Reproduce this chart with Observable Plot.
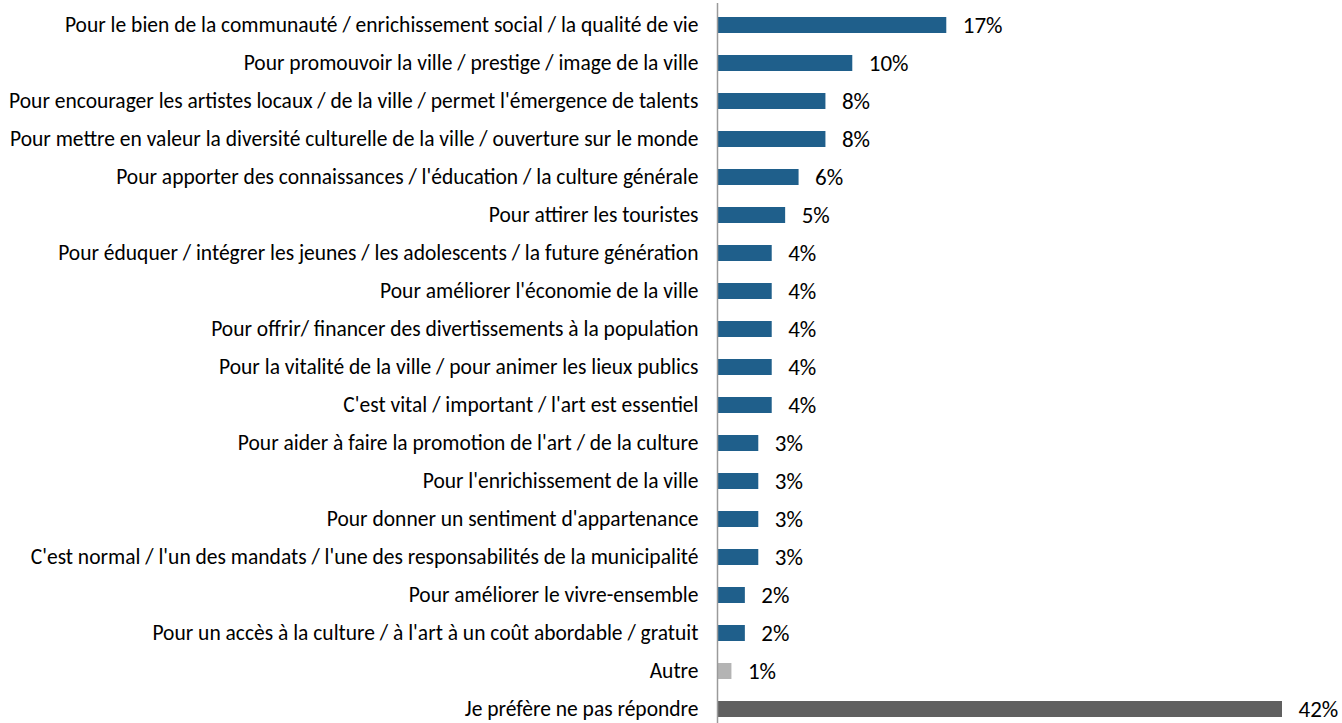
<!DOCTYPE html>
<html>
<head>
<meta charset="utf-8">
<script src="https://cdn.jsdelivr.net/npm/d3@7"></script>
<script src="https://cdn.jsdelivr.net/npm/@observablehq/plot@0.6"></script>
<style>
  html, body { margin: 0; padding: 0; background: #fff; }
  #chart svg { display: block; }
</style>
</head>
<body>
<div id="chart"></div>
<script>
const categories = [
  "Pour le bien de la communauté / enrichissement social / la qualité de vie",
  "Pour promouvoir la ville / prestige / image de la ville",
  "Pour encourager les artistes locaux / de la ville / permet l'émergence de talents",
  "Pour mettre en valeur la diversité culturelle de la ville / ouverture sur le monde",
  "Pour apporter des connaissances / l'éducation / la culture générale",
  "Pour attirer les touristes",
  "Pour éduquer / intégrer les jeunes / les adolescents / la future génération",
  "Pour améliorer l'économie de la ville",
  "Pour offrir/ financer des divertissements à la population",
  "Pour la vitalité de la ville / pour animer les lieux publics",
  "C'est vital / important / l'art est essentiel",
  "Pour aider à faire la promotion de l'art / de la culture",
  "Pour l'enrichissement de la ville",
  "Pour donner un sentiment d'appartenance",
  "C'est normal / l'un des mandats / l'une des responsabilités de la municipalité",
  "Pour améliorer le vivre-ensemble",
  "Pour un accès à la culture / à l'art à un coût abordable / gratuit",
  "Autre",
  "Je préfère ne pas répondre"
];
const values = [17, 10, 8, 8, 6, 5, 4, 4, 4, 4, 4, 3, 3, 3, 3, 2, 2, 1, 42];
const groups = ["Raison","Raison","Raison","Raison","Raison","Raison","Raison","Raison","Raison","Raison",
                "Raison","Raison","Raison","Raison","Raison","Raison","Raison","Autre","NSP"];
const groupDomain = ["Raison", "Autre", "NSP"];

const data = categories.map((c, i) => ({category: c, value: values[i], group: groups[i]}));

const chart = Plot.plot({
  width: 1342,
  height: 723,
  marginLeft: 718,
  marginRight: 60,
  marginTop: 3,
  marginBottom: 0,
  style: {fontFamily: "Carlito, Calibri, 'Liberation Sans', Arial, sans-serif", color: "#000", background: "#fff"},
  x: {domain: [0, 42], axis: null},
  y: {domain: categories, paddingInner: 0.581, paddingOuter: 0.21, align: 0.72, label: null, axis: null},
  color: {domain: groupDomain, range: ["#1F5F8B", "#B4B4B4", "#606060"]},
  marks: [
    Plot.barX(data, {x: "value", y: "category", fill: "group"}),
    Plot.ruleX([0], {stroke: "#9A9A9A", strokeWidth: 1.5, dx: -1}),
    Plot.text(data, {x: "value", y: "category", text: d => d.value + "%", dx: 16, textAnchor: "start", fontSize: 23, fill: "#000"}),
    Plot.axisY({tickSize: 0, tickPadding: 20, fontSize: 21.5, label: null, fill: "#000"})
  ]
});
document.getElementById("chart").appendChild(chart);
</script>
</body>
</html>
